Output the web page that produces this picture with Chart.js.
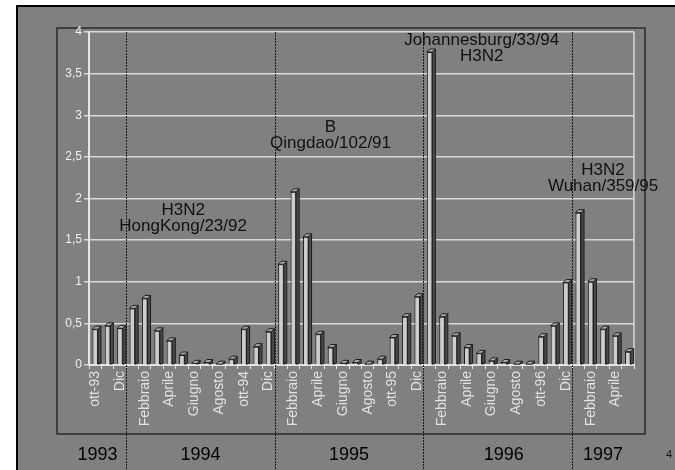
<!DOCTYPE html>
<html>
<head>
<meta charset="utf-8">
<script src="https://cdn.jsdelivr.net/npm/chart.js@4"></script>
<style>
  html, body { margin: 0; padding: 0; background: #ffffff; }
  #wrap { position: relative; width: 675px; height: 470px; }
</style>
</head>
<body>
<div id="wrap"><canvas id="flu" width="675" height="470"></canvas></div>
<script>
// months from ott-93 to maggio-97
const months = [
    'ott-93', 'Novembre', 'Dic',
    'Gennaio', 'Febbraio', 'Marzo', 'Aprile', 'Maggio', 'Giugno', 'Luglio', 'Agosto', 'Settembre', 'ott-94', 'Novembre', 'Dic',
    'Gennaio', 'Febbraio', 'Marzo', 'Aprile', 'Maggio', 'Giugno', 'Luglio', 'Agosto', 'Settembre', 'ott-95', 'Novembre', 'Dic',
    'Gennaio', 'Febbraio', 'Marzo', 'Aprile', 'Maggio', 'Giugno', 'Luglio', 'Agosto', 'Settembre', 'ott-96', 'Novembre', 'Dic',
    'Gennaio', 'Febbraio', 'Marzo', 'Aprile', 'Maggio'
];

const incidence = [
    0.43, 0.47, 0.44,
    0.68, 0.80, 0.41, 0.29, 0.12, 0.02, 0.03, 0.01, 0.07, 0.43, 0.22, 0.40,
    1.21, 2.08, 1.54, 0.37, 0.21, 0.02, 0.03, 0.01, 0.07, 0.33, 0.58, 0.82,
    3.76, 0.58, 0.35, 0.21, 0.14, 0.05, 0.03, 0.01, 0.01, 0.34, 0.47, 0.99,
    1.83, 1.00, 0.43, 0.35, 0.16
];

const years = ['1993', '1994', '1995', '1996', '1997'];
const yearFirstMonth = [0, 3, 15, 27, 39];

const strains = [
    ['H3N2', 'HongKong/23/92'],
    ['B', 'Qingdao/102/91'],
    ['Johannesburg/33/94', 'H3N2'],
    ['H3N2', 'Wuhan/359/95']
];

const yTicks = [0, 0.5, 1, 1.5, 2, 2.5, 3, 3.5, 4];

const FONT = '"Liberation Sans", Arial, sans-serif';

// frame, separators, year labels, strain names
const decorPlugin = {
    id: 'decor',
    beforeDraw(chart) {
        const ctx = chart.ctx;
        ctx.save();
        ctx.fillStyle = '#ffffff';
        ctx.fillRect(0, 0, chart.width, chart.height);
        ctx.fillStyle = '#808080';
        ctx.fillRect(17, 6, chart.width - 17, chart.height - 6);
        ctx.strokeStyle = '#000000';
        ctx.lineWidth = 2;
        ctx.beginPath();
        ctx.moveTo(17, chart.height);
        ctx.lineTo(17, 6);
        ctx.lineTo(chart.width, 6);
        ctx.stroke();
        ctx.strokeStyle = '#2a2a2a';
        ctx.lineWidth = 1.5;
        ctx.strokeRect(57, 28, 588, 406);
        ctx.restore();
    },
    afterDatasetsDraw(chart, args, opts) {
        const ctx = chart.ctx;
        const x = chart.scales.x;
        const y = chart.scales.y;
        const area = chart.chartArea;
        ctx.save();

        // light right wall
        ctx.strokeStyle = '#d8d8d8';
        ctx.lineWidth = 1.5;
        ctx.beginPath();
        ctx.moveTo(area.right, area.top);
        ctx.lineTo(area.right, area.bottom);
        ctx.stroke();

        // dotted year separators
        ctx.strokeStyle = '#1a1a1a';
        ctx.lineWidth = 1;
        ctx.setLineDash([2, 1]);
        for (let i = 1; i < yearFirstMonth.length; i++) {
            const k = yearFirstMonth[i];
            const px = Math.round((x.getPixelForValue(k - 1) + x.getPixelForValue(k)) / 2) + 0.5;
            ctx.beginPath();
            ctx.moveTo(px, area.top);
            ctx.lineTo(px, chart.height);
            ctx.stroke();
        }
        ctx.setLineDash([]);

        // year labels
        ctx.fillStyle = '#000000';
        ctx.font = '18px ' + FONT;
        ctx.textAlign = 'center';
        ctx.textBaseline = 'middle';
        years.forEach((yr, i) => {
            const first = yearFirstMonth[i];
            const last = i + 1 < yearFirstMonth.length ? yearFirstMonth[i + 1] - 1 : months.length - 1;
            const cx = (x.getPixelForValue(first) + x.getPixelForValue(last)) / 2 + (opts.yearNudge[i] || 0);
            ctx.fillText(yr, cx, 455);
        });

        // strain names
        ctx.fillStyle = '#111111';
        ctx.font = '17px ' + FONT;
        strains.forEach((lines, i) => {
            const a = opts.strainAt[i];
            const cx = x.getPixelForValue(0) + a.idx * (x.getPixelForValue(1) - x.getPixelForValue(0));
            const cy = y.getPixelForValue(a.val);
            lines.forEach((t, j) => ctx.fillText(t, cx, cy + j * 16));
        });

        // page number
        ctx.font = '11px ' + FONT;
        ctx.fillText('4', 669, 455);
        ctx.restore();
    }
};

// fake 3d depth on each bar
const depthPlugin = {
    id: 'depth',
    afterDatasetsDraw(chart) {
        const ctx = chart.ctx;
        const d = 3;
        ctx.save();
        ctx.lineWidth = 1;
        ctx.strokeStyle = '#1e1e1e';
        chart.getDatasetMeta(0).data.forEach(bar => {
            const l = bar.x - bar.width / 2;
            const r = bar.x + bar.width / 2;
            const t = bar.y;
            const b = bar.base;
            ctx.fillStyle = '#4a4a4a';
            ctx.beginPath();
            ctx.moveTo(r, t);
            ctx.lineTo(r + d, t - d);
            ctx.lineTo(r + d, b - 1);
            ctx.lineTo(r, b);
            ctx.closePath();
            ctx.fill();
            ctx.stroke();
            ctx.fillStyle = '#a8a8a8';
            ctx.beginPath();
            ctx.moveTo(l, t);
            ctx.lineTo(l + d, t - d);
            ctx.lineTo(r + d, t - d);
            ctx.lineTo(r, t);
            ctx.closePath();
            ctx.fill();
            ctx.stroke();
        });
        ctx.restore();
    }
};

new Chart(document.getElementById('flu'), {
    type: 'bar',
    data: {
        labels: months,
        datasets: [{
            data: incidence,
            backgroundColor: '#cdcdcd',
            borderColor: '#1e1e1e',
            borderWidth: 1,
            barPercentage: 0.45,
            categoryPercentage: 1
        }]
    },
    options: {
        responsive: false,
        animation: false,
        events: [],
        layout: { padding: { left: 47, right: 41, top: 32, bottom: 35 } },
        plugins: {
            legend: { display: false },
            tooltip: { enabled: false },
            decor: {
                yearNudge: [-10, 0, 0, 6, 0],
                strainAt: [
                    { idx: 7.1, val: 1.86 },
                    { idx: 19.0, val: 2.86 },
                    { idx: 31.2, val: 3.9 },
                    { idx: 41.0, val: 2.34 }
                ]
            }
        },
        scales: {
            x: {
                afterFit(scale) { scale.height = 70; },
                grid: { display: true, drawOnChartArea: false, color: '#e6e6e6', tickLength: 4, offset: true },
                border: { color: '#e6e6e6', width: 2 },
                ticks: {
                    autoSkip: false,
                    maxRotation: 90,
                    minRotation: 90,
                    padding: 2,
                    color: '#e2e2e2',
                    font: { family: FONT, size: 14 },
                    callback(v, i) { return i % 2 === 0 ? months[i] : ''; }
                }
            },
            y: {
                min: 0,
                max: 4,
                afterFit(scale) { scale.width = 42; },
                afterBuildTicks(scale) { scale.ticks = yTicks.map(v => ({ value: v })); },
                grid: { color: '#d8d8d8', lineWidth: 1.5, tickLength: 5 },
                border: { color: '#e6e6e6', width: 2 },
                ticks: {
                    color: '#f0f0f0',
                    padding: 2,
                    font: { family: FONT, size: 12 },
                    callback(v) { return String(v).replace('.', ','); }
                }
            }
        }
    },
    plugins: [decorPlugin, depthPlugin]
});
</script>
</body>
</html>
